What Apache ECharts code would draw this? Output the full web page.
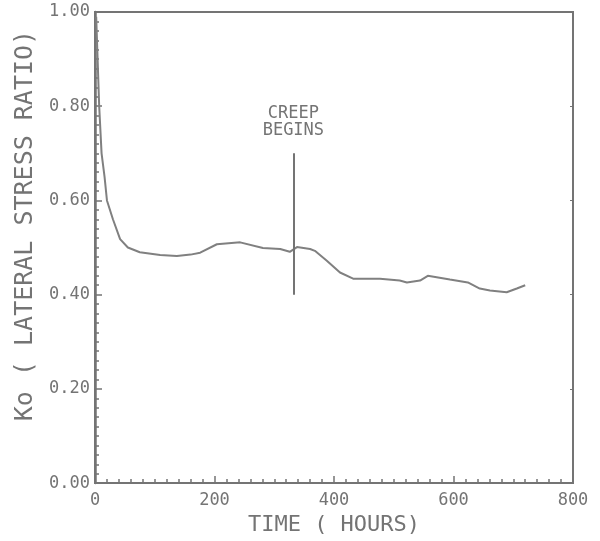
<!DOCTYPE html>
<html>
<head>
<meta charset="utf-8">
<script src="https://cdn.jsdelivr.net/npm/echarts@6.0.0/dist/echarts.min.js"></script>
<style>
  html, body { margin: 0; padding: 0; background: #fff; }
  #chart { width: 600px; height: 541px; }
</style>
</head>
<body>
<div id="chart"></div>
<script>
// values
var hours = [2, 7, 11, 16, 20, 30, 42, 55, 75, 109, 137, 160, 176, 204, 243, 281, 310, 326, 338, 360, 368, 388, 410, 432, 477, 510, 522, 544, 557, 594, 624, 644, 661, 689, 706, 720];
var ratio = [0.99, 0.80, 0.70, 0.65, 0.60, 0.56, 0.518, 0.50, 0.49, 0.484, 0.482, 0.485, 0.489, 0.507, 0.511, 0.499, 0.497, 0.491, 0.501, 0.497, 0.493, 0.472, 0.447, 0.434, 0.434, 0.430, 0.426, 0.430, 0.440, 0.432, 0.426, 0.413, 0.409, 0.405, 0.413, 0.420];
var creepAt = 332;
var creepRange = [0.40, 0.70];
var xTicks = [0, 200, 400, 600, 800];
var yTicks = [0, 0.2, 0.4, 0.6, 0.8, 1.0];

var grey = '#747474';
var mono = 'DejaVu Sans Mono';

var pts = hours.map(function (h, i) { return [h, ratio[i]]; });

var chart = echarts.init(document.getElementById('chart'));
chart.setOption({
  backgroundColor: '#fff',
  animation: false,
  // the frame round the plot
  grid: { left: 95, top: 12, right: 27, bottom: 50, show: true, borderColor: grey, borderWidth: 2 },
  xAxis: {
    type: 'value', position: 'bottom',
    min: xTicks[0], max: xTicks[xTicks.length - 1], interval: 200,
    name: 'TIME ( HOURS)', nameLocation: 'middle', nameGap: 26,
    nameTextStyle: { fontFamily: mono, fontSize: 22, color: grey },
    axisLine: { show: true, onZero: false, lineStyle: { color: grey, width: 2 } },
    // negative length turns the ticks up into the plot
    axisTick: { show: true, inside: false, length: -7, lineStyle: { color: grey, width: 1.5 } },
    minorTick: { show: true, splitNumber: 10, length: -4, lineStyle: { color: grey, width: 1.5 } },
    axisLabel: { margin: 9, fontFamily: mono, fontSize: 17, color: grey },
    splitLine: { show: false }
  },
  yAxis: [
    {
      type: 'value', position: 'left',
      min: yTicks[0], max: yTicks[yTicks.length - 1], interval: 0.2,
      name: 'Ko ( LATERAL STRESS RATIO)', nameLocation: 'middle', nameGap: 56,
      nameTextStyle: { fontFamily: mono, fontSize: 25, color: grey, padding: [0, 0, 0, 44] },
      axisLine: { show: true, onZero: false, lineStyle: { color: grey, width: 2.5 } },
      axisTick: { show: true, inside: true, length: 7, lineStyle: { color: grey, width: 1.5 } },
      minorTick: { show: true, splitNumber: 10, length: 4, lineStyle: { color: grey, width: 1.5 } },
      axisLabel: {
        margin: 5, fontFamily: mono, fontSize: 17, color: grey,
        formatter: function (v) { return v.toFixed(2); }
      },
      splitLine: { show: false }
    },
    {
      type: 'value', position: 'right',
      min: 0, max: 1, interval: 0.2,
      axisLine: { show: true, onZero: false, lineStyle: { color: grey, width: 2 } },
      axisTick: { show: true, inside: true, length: 3, lineStyle: { color: grey } },
      axisLabel: { show: false },
      splitLine: { show: false }
    }
  ],
  series: [
    {
      type: 'line',
      data: pts,
      showSymbol: false,
      lineStyle: { color: '#808080', width: 2 },
      markLine: {
        silent: true,
        symbol: 'none',
        lineStyle: { type: 'solid', color: grey, width: 2 },
        label: {
          position: 'end', distance: 14,
          formatter: 'CREEP\nBEGINS',
          fontFamily: mono, fontSize: 17, lineHeight: 17, color: grey, align: 'center'
        },
        data: [[{ coord: [creepAt, creepRange[0]] }, { coord: [creepAt, creepRange[1]] }]]
      }
    }
  ]
});
</script>
</body>
</html>
